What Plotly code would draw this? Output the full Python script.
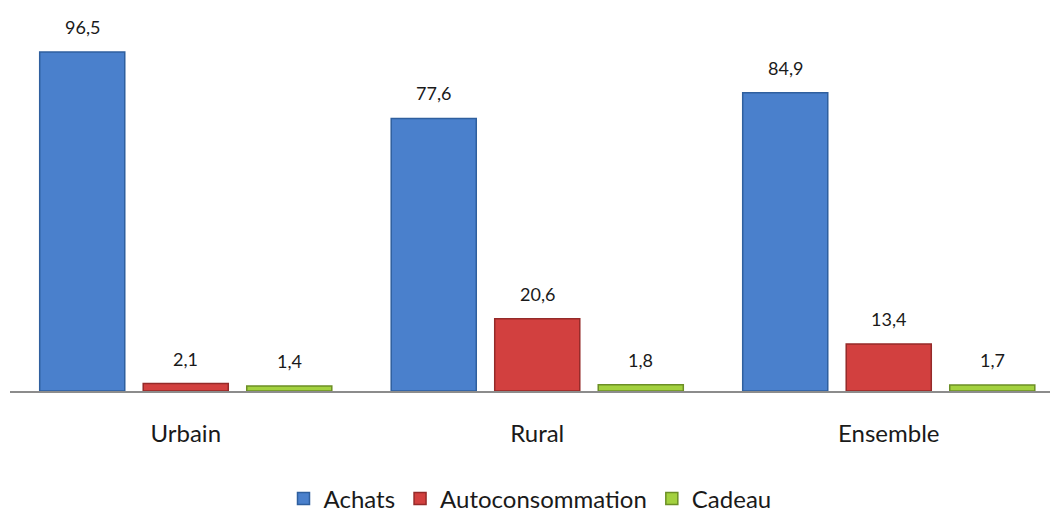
import plotly.graph_objects as go

categories = ["Urbain", "Rural", "Ensemble"]
achats = [96.5, 77.6, 84.9]
autoconsommation = [2.1, 20.6, 13.4]
cadeau = [1.4, 1.8, 1.7]

# name, values, fill, edge, centre offset within the category slot
series = [
    ("Achats", achats, "#4a80cc", "#2f5f9e", -0.2945),
    ("Autoconsommation", autoconsommation, "#d2403f", "#952a29", 0.0),
    ("Cadeau", cadeau, "#a3d13f", "#6c8f26", 0.2945),
]
bar_width = 0.242

x_pos = list(range(len(categories)))

fig = go.Figure()
for name, vals, fill, edge, shift in series:
    fig.add_trace(go.Bar(
        name=name,
        x=x_pos,
        y=vals,
        width=bar_width,
        offset=shift - bar_width / 2,
        marker=dict(color=fill, line=dict(color=edge, width=1.5)),
    ))
    for xi, v in zip(x_pos, vals):
        fig.add_annotation(
            x=xi + shift,
            y=v,
            text=f"{v:.1f}".replace(".", ","),
            showarrow=False,
            yanchor="bottom",
            yshift=12,
            font=dict(size=18, color="#1a1a1a"),
        )

fig.update_layout(
    width=1050,
    height=512,
    barmode="overlay",
    plot_bgcolor="white",
    paper_bgcolor="white",
    font=dict(family="Lato, sans-serif", color="#1a1a1a"),
    margin=dict(l=10, r=0, t=10, b=121, autoexpand=False),
    xaxis=dict(
        range=[-0.5, (1050 - 10) / 351.5 - 0.5],
        tickmode="array",
        tickvals=x_pos,
        ticktext=categories,
        tickfont=dict(size=24),
        showline=True,
        linecolor="#8c8c8c",
        linewidth=2,
        ticks="",
        ticklabelstandoff=20,
        showgrid=False,
        zeroline=False,
    ),
    yaxis=dict(
        range=[0, 108.45],
        visible=False,
        showgrid=False,
        zeroline=False,
    ),
    legend=dict(
        orientation="h",
        x=0.5,
        xanchor="center",
        y=-0.2835,
        yanchor="middle",
        font=dict(size=24),
        itemwidth=30,
    ),
)

fig.write_html("out.html")
